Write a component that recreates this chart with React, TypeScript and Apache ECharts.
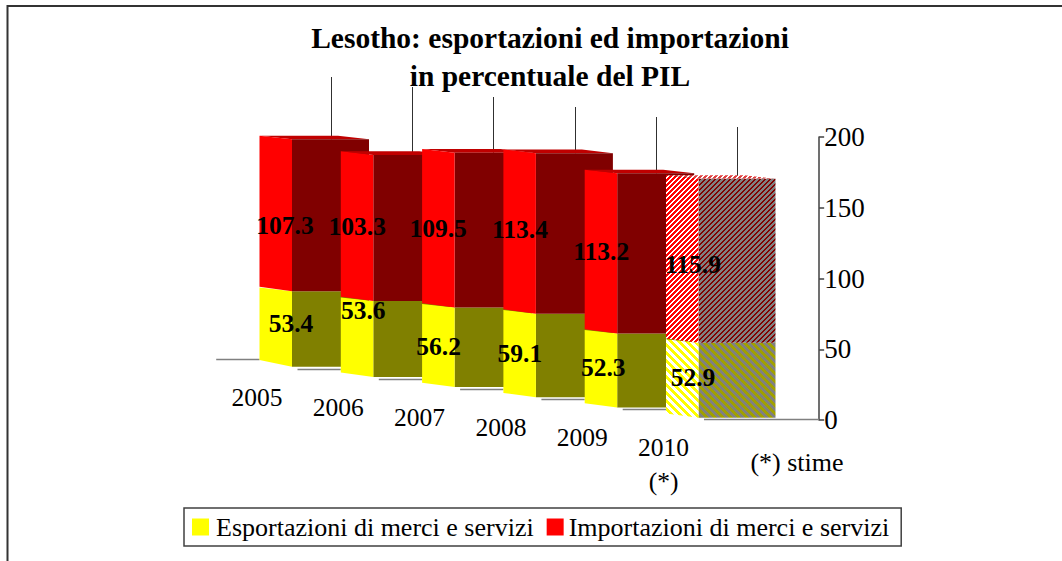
import React, { useEffect, useRef } from "react";
import * as echarts from "echarts";

const categories = ["2005", "2006", "2007", "2008", "2009", "2010\n(*)"];
const exportsPct = [53.4, 53.6, 56.2, 59.1, 52.3, 52.9];
const importsPct = [107.3, 103.3, 109.5, 113.4, 113.2, 115.9];
const seriesNames = ["Esportazioni di merci e servizi", "Importazioni di merci e servizi"];
const titleText = "Lesotho: esportazioni ed importazioni\nin percentuale del PIL";
const noteText = "(*) stime";
const estimatedIndex = 5;

// layout nudges of the value labels, in pixels
const exportNudge = [[-1, -5], [-10, -28], [-16, -1], [-16, -1.5], [-14, -2.5], [-5.5, -3]];
const importNudge = [[-7, 10], [-16, -1], [-16.5, -2], [-16, -3.5], [-16, -1.5], [-5.5, 4]];

const FONT = '"Liberation Serif", "Times New Roman", serif';
const FRONT_W = 32.5;
const SIDE_W = 77;
const BACK_W = 46;
const STEP_Y = 10.2;

function stripes(a: string, b: string, period: number, rising: boolean) {
  const c = document.createElement("canvas");
  c.width = period;
  c.height = period;
  const ctx = c.getContext("2d")!;
  for (let x = 0; x < period; x++) {
    for (let y = 0; y < period; y++) {
      const k = rising ? (x + y) % period : (x - y + period) % period;
      ctx.fillStyle = k < period / 2 ? a : b;
      ctx.fillRect(x, y, 1, 1);
    }
  }
  return { image: c, repeat: "repeat" };
}

export default function App() {
  const ref = useRef<HTMLDivElement>(null);
  useEffect(() => {
    document.body.style.margin = "0";
    const chart = echarts.init(ref.current!, null, { renderer: "svg" });

    const paints: any = {
      exp: {
        front: "#ffff00",
        side: "#808000",
        hFront: stripes("#ffff00", "#ffffff", 8, false),
        hSide: stripes("#a0a000", "#808080", 8, false),
      },
      imp: {
        front: "#ff0000",
        side: "#800000",
        hFront: stripes("#ff0000", "#ffffff", 5, true),
        hSide: stripes("#808080", "#800000", 5, true),
        top: "#c00000",
        hTop: stripes("#e04040", "#ffffff", 5, true),
      },
    };

    const sideBottomOffset = (i: number) => 2.3 + STEP_Y * (estimatedIndex - i);

    const segment = (kind: "exp" | "imp") => (_p: any, api: any) => {
      const i = api.value(0);
      const from = api.value(1);
      const to = api.value(2);
      const x = api.coord([i, 0])[0];
      const off = sideBottomOffset(i);
      const y0 = api.coord([i, from])[1] - off;
      const y1 = api.coord([i, to])[1] - off;
      const dropBottom = from === 0 && i === 0 ? 6.7 : 4.3;
      const p = paints[kind];
      const est = i === estimatedIndex;
      const children: any[] = [];
      if (p.top) {
        children.push({
          type: "polygon",
          shape: { points: [[x - FRONT_W, y1 - 3.6], [x + BACK_W, y1 - 3.6], [x + SIDE_W, y1], [x, y1]] },
          style: { fill: est ? p.hTop : p.top },
        });
      }
      children.push({
        type: "polygon",
        shape: { points: [[x, y0], [x + SIDE_W, y0], [x + SIDE_W, y1], [x, y1]] },
        style: { fill: est ? p.hSide : p.side },
      });
      children.push({
        type: "polygon",
        shape: { points: [[x - FRONT_W, y0 - dropBottom], [x, y0], [x, y1], [x - FRONT_W, y1 - 3.6]] },
        style: { fill: est ? p.hFront : p.front },
      });
      return { type: "group", children };
    };

    const valueLabel = (nudge: number[][]) => (_p: any, api: any) => {
      const i = api.value(0);
      const from = api.value(1);
      const to = api.value(2);
      const [x, y] = api.coord([i, (from + to) / 2]);
      return {
        type: "text",
        x: x + nudge[i][0],
        y: y - sideBottomOffset(i) + nudge[i][1],
        style: {
          text: (to - from).toFixed(1),
          textAlign: "center",
          textVerticalAlign: "middle",
          fontFamily: FONT,
          fontWeight: "bold",
          fontSize: 25.5,
          fill: "#000",
        },
      };
    };

    const exportRows = exportsPct.map((v, i) => [i, 0, v]);
    const importRows = importsPct.map((v, i) => [i, exportsPct[i], exportsPct[i] + v]);

    const axisColor = "#404040";

    const option: any = {
      animation: false,
      backgroundColor: "#fff",
      title: {
        text: titleText,
        left: 545,
        top: 14,
        textAlign: "center",
        textStyle: { fontFamily: FONT, fontWeight: "bold", fontSize: 29.5, lineHeight: 38, color: "#000" },
      },
      grid: { left: 251.35, width: 487.8, top: 137, height: 283 },
      xAxis: { type: "category", data: categories, show: false },
      yAxis: {
        type: "value",
        position: "right",
        offset: 80,
        min: 0,
        max: 200,
        interval: 50,
        splitLine: { show: false },
        axisLine: { show: true, lineStyle: { color: axisColor, width: 1.5 } },
        axisTick: { show: true, length: 5, lineStyle: { color: axisColor, width: 1.5 } },
        axisLabel: { fontFamily: FONT, fontSize: 27, color: "#000", margin: 5 },
      },
      legend: {
        left: 184,
        top: 508,
        padding: [6, 12, 6, 8],
        itemWidth: 17,
        itemHeight: 17,
        itemGap: 13,
        borderColor: axisColor,
        borderWidth: 1.5,
        selectedMode: false,
        icon: "rect",
        data: [
          { name: seriesNames[0], textStyle: { padding: [6, 0, 0, 2] } },
          { name: seriesNames[1], textStyle: { padding: [6, 0, 0, 0] } },
        ],
        textStyle: { fontFamily: FONT, fontSize: 26, color: "#000", padding: [6, 0, 0, 2] },
      },
      series: [
        {
          type: "custom",
          name: "guides",
          silent: true,
          clip: false,
          z: 1,
          data: importRows,
          renderItem: (_p: any, api: any) => {
            const i = api.value(0);
            const x = api.coord([i, 0])[0];
            const yZero = api.coord([i, 0])[1];
            const topY = api.coord([i, api.value(2)])[1] - sideBottomOffset(i);
            const baseY = yZero - 0.5 - 10 * (categories.length - i);
            const stemX = Math.floor(x + 39.3) + 0.5;
            const lineStyle = { stroke: "#808080", lineWidth: 1.5, fill: "none" };
            const children: any[] = [
              { type: "line", shape: { x1: x - FRONT_W - 43.3, y1: baseY, x2: x - FRONT_W, y2: baseY }, style: lineStyle },
              { type: "line", shape: { x1: stemX, y1: 77 + 10 * i, x2: stemX, y2: topY }, style: { stroke: "#303030", lineWidth: 1, fill: "none" } },
            ];
            if (i === estimatedIndex) {
              const endX = api.coord([i, 0])[0] + 120.5;
              children.push({
                type: "line",
                shape: { x1: x + 5.5, y1: yZero - 0.5, x2: endX, y2: yZero - 0.5 },
                style: lineStyle,
              });
            }
            return { type: "group", children };
          },
        },
        {
          type: "custom",
          name: seriesNames[0],
          clip: false,
          z: 2,
          silent: true,
          itemStyle: { color: "#ffff00" },
          data: exportRows,
          renderItem: segment("exp"),
        },
        {
          type: "custom",
          name: seriesNames[1],
          clip: false,
          z: 3,
          silent: true,
          itemStyle: { color: "#ff0000" },
          data: importRows,
          renderItem: segment("imp"),
        },
        {
          type: "custom",
          name: "exportLabels",
          clip: false,
          z: 5,
          silent: true,
          data: exportRows,
          renderItem: valueLabel(exportNudge),
        },
        {
          type: "custom",
          name: "importLabels",
          clip: false,
          z: 5,
          silent: true,
          data: importRows,
          renderItem: valueLabel(importNudge),
        },
        {
          type: "custom",
          name: "categoryLabels",
          clip: false,
          z: 5,
          silent: true,
          data: categories.map((_, i) => [i, 0]),
          renderItem: (_p: any, api: any) => {
            const i = api.value(0);
            const [x, y] = api.coord([i, 0]);
            return {
              type: "text",
              x: x - 35,
              y: y - 40 + 10 * i,
              style: {
                text: categories[i],
                textAlign: "center",
                textVerticalAlign: "top",
                fontFamily: FONT,
                fontSize: 25.5,
                lineHeight: 34,
                fill: "#000",
              },
            };
          },
        },
      ],
      graphic: [
        {
          type: "polyline",
          silent: true,
          shape: { points: [[7.5, 561], [7.5, 6], [1062, 6]] },
          style: { stroke: "#333333", lineWidth: 2, fill: "none" },
        },
        {
          type: "text",
          x: 797,
          y: 462,
          silent: true,
          style: {
            text: noteText,
            textAlign: "center",
            textVerticalAlign: "middle",
            fontFamily: FONT,
            fontSize: 26,
            fill: "#000",
          },
        },
      ],
    };
    chart.setOption(option);
    return () => chart.dispose();
  }, []);
  return <div ref={ref} style={{ width: 1062, height: 561 }} />;
}
